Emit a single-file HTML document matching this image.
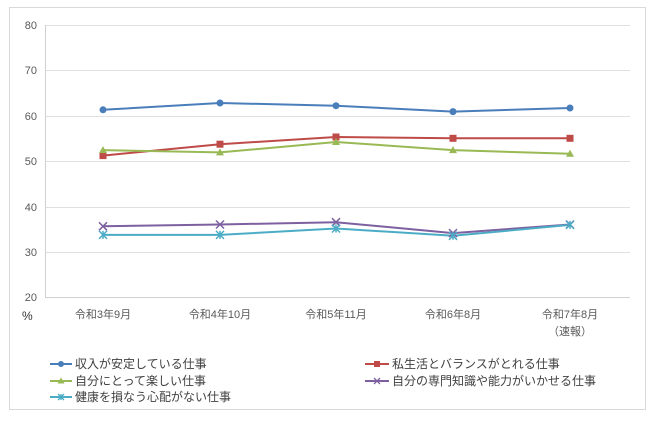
<!DOCTYPE html>
<html><head><meta charset="utf-8"><style>
body{margin:0;background:#fff;}
svg{display:block;font-family:"Liberation Sans","Noto Sans CJK JP",sans-serif;}
</style></head><body>
<svg width="660" height="425" viewBox="0 0 660 425">
<rect x="9.5" y="7.5" width="636" height="402" fill="#fff" stroke="#d9d9d9"/>
<g stroke="#e0e0e0" stroke-width="1">
<line x1="45" y1="25.5" x2="630" y2="25.5"/>
<line x1="45" y1="70.5" x2="630" y2="70.5"/>
<line x1="45" y1="116.5" x2="630" y2="116.5"/>
<line x1="45" y1="161.5" x2="630" y2="161.5"/>
<line x1="45" y1="207.5" x2="630" y2="207.5"/>
<line x1="45" y1="252.5" x2="630" y2="252.5"/>
<line x1="45" y1="297.5" x2="630" y2="297.5" stroke="#d0d0d0"/>
<line x1="45.5" y1="25" x2="45.5" y2="297" stroke="#d0d0d0"/>
</g>
<g font-size="11" fill="#595959" text-anchor="end">
<text x="37" y="29">80</text><text x="37" y="74">70</text><text x="37" y="120">60</text>
<text x="37" y="165">50</text><text x="37" y="211">40</text><text x="37" y="256">30</text><text x="37" y="301">20</text>
</g>
<text x="22" y="320" font-size="12" fill="#333">%</text>
<g font-size="11" fill="#595959" text-anchor="middle">
<text x="103" y="318">令和3年9月</text><text x="220" y="318">令和4年10月</text>
<text x="336" y="318">令和5年11月</text><text x="453" y="318">令和6年8月</text>
<text x="570" y="318">令和7年8月</text><text x="570" y="335">（速報）</text>
</g>
<g fill="none" stroke-width="2">
<polyline stroke="#4a7ebb" points="103,109.8 220,103 336,105.7 453,111.6 570,108"/>
<polyline stroke="#be4b48" points="103,155.6 220,144.2 336,137 453,138.3 570,138.3"/>
<polyline stroke="#98b954" points="103,150.1 220,152.4 336,142 453,150.1 570,153.8"/>
<polyline stroke="#7d60a0" points="103,226.3 220,224.5 336,222.2 453,233.1 570,224.5"/>
<polyline stroke="#4bacc6" points="103,234.9 220,234.9 336,228.5 453,235.8 570,224.9"/>
</g>
<g fill="#4a7ebb"><circle cx="103" cy="109.8" r="3.5"/><circle cx="220" cy="103" r="3.5"/><circle cx="336" cy="105.7" r="3.5"/><circle cx="453" cy="111.6" r="3.5"/><circle cx="570" cy="108" r="3.5"/></g>
<g fill="#be4b48"><rect x="99.5" y="152.1" width="7" height="7"/><rect x="216.5" y="140.7" width="7" height="7"/><rect x="332.5" y="133.5" width="7" height="7"/><rect x="449.5" y="134.8" width="7" height="7"/><rect x="566.5" y="134.8" width="7" height="7"/></g>
<g fill="#98b954"><polygon points="103,146.1 107,153.1 99,153.1"/><polygon points="220,148.4 224,155.4 216,155.4"/><polygon points="336,138 340,145 332,145"/><polygon points="453,146.1 457,153.1 449,153.1"/><polygon points="570,149.8 574,156.8 566,156.8"/></g>
<g stroke="#7d60a0" stroke-width="1.5"><path d="M99,222.3l8,8M107,222.3l-8,8M216,220.5l8,8M224,220.5l-8,8M332,218.2l8,8M340,218.2l-8,8M449,229.1l8,8M457,229.1l-8,8M566,220.5l8,8M574,220.5l-8,8"/></g>
<g stroke="#4bacc6" stroke-width="1.5"><path d="M99,230.9l8,8M107,230.9l-8,8M103,230.9v8M216,230.9l8,8M224,230.9l-8,8M220,230.9v8M332,224.5l8,8M340,224.5l-8,8M336,224.5v8M449,231.8l8,8M457,231.8l-8,8M453,231.8v8M566,220.9l8,8M574,220.9l-8,8M570,220.9v8"/></g>
<g font-size="12" fill="#404040">
<line x1="50" y1="364" x2="72" y2="364" stroke="#4a7ebb" stroke-width="2"/><circle cx="61" cy="364" r="3" fill="#4a7ebb"/>
<text x="75" y="368">収入が安定している仕事</text>
<line x1="50" y1="381" x2="72" y2="381" stroke="#98b954" stroke-width="2"/><polygon points="61,377.5 64.5,383.5 57.5,383.5" fill="#98b954"/>
<text x="75" y="385">自分にとって楽しい仕事</text>
<line x1="50" y1="397" x2="72" y2="397" stroke="#4bacc6" stroke-width="2"/><path d="M58,394l6,6M64,394l-6,6M61,394v6" stroke="#4bacc6" stroke-width="1.3"/>
<text x="75" y="401">健康を損なう心配がない仕事</text>
<line x1="365" y1="364" x2="389" y2="364" stroke="#be4b48" stroke-width="2"/><rect x="374" y="361" width="6" height="6" fill="#be4b48"/>
<text x="392" y="368">私生活とバランスがとれる仕事</text>
<line x1="365" y1="381" x2="389" y2="381" stroke="#7d60a0" stroke-width="2"/><path d="M374,378l6,6M380,378l-6,6" stroke="#7d60a0" stroke-width="1.3"/>
<text x="392" y="385">自分の専門知識や能力がいかせる仕事</text>
</g>
</svg>
</body></html>
